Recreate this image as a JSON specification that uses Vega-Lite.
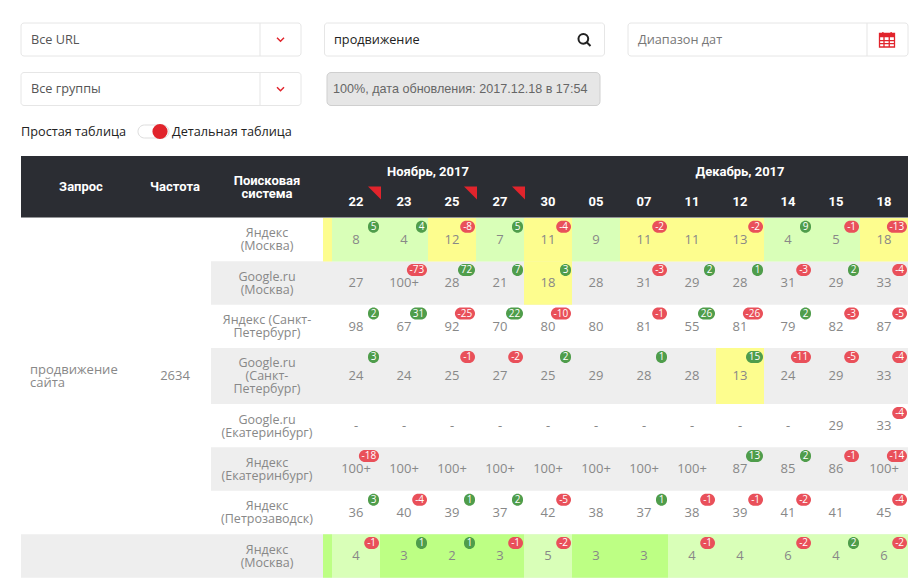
{
  "$schema": "https://vega.github.io/schema/vega-lite/v6.json",
  "autosize": {"type": "fit", "contains": "padding"},
  "width": 920,
  "height": 586,
  "padding": 0,
  "background": "#ffffff",
  "config": {"view": {"stroke": null}, "axis": {"disable": true}, "legend": {"disable": true}, "text": {"font": "Open Sans"}},
  "datasets": {
    "cells": [
      {"row":0,"col":0,"date":"22","pos":"8","delta":5,"tone":"green"},{"row":0,"col":1,"date":"23","pos":"4","delta":4,"tone":"green"},{"row":0,"col":2,"date":"25","pos":"12","delta":-8,"tone":"yellow"},{"row":0,"col":3,"date":"27","pos":"7","delta":5,"tone":"green"},{"row":0,"col":4,"date":"30","pos":"11","delta":-4,"tone":"yellow"},{"row":0,"col":5,"date":"05","pos":"9","delta":null,"tone":"green"},{"row":0,"col":6,"date":"07","pos":"11","delta":-2,"tone":"yellow"},{"row":0,"col":7,"date":"11","pos":"11","delta":null,"tone":"yellow"},{"row":0,"col":8,"date":"12","pos":"13","delta":-2,"tone":"yellow"},{"row":0,"col":9,"date":"14","pos":"4","delta":9,"tone":"green"},{"row":0,"col":10,"date":"15","pos":"5","delta":-1,"tone":"green"},{"row":0,"col":11,"date":"18","pos":"18","delta":-13,"tone":"yellow"},
      {"row":1,"col":0,"date":"22","pos":"27","delta":null,"tone":null},{"row":1,"col":1,"date":"23","pos":"100+","delta":-73,"tone":null},{"row":1,"col":2,"date":"25","pos":"28","delta":72,"tone":null},{"row":1,"col":3,"date":"27","pos":"21","delta":7,"tone":null},{"row":1,"col":4,"date":"30","pos":"18","delta":3,"tone":"yellow"},{"row":1,"col":5,"date":"05","pos":"28","delta":null,"tone":null},{"row":1,"col":6,"date":"07","pos":"31","delta":-3,"tone":null},{"row":1,"col":7,"date":"11","pos":"29","delta":2,"tone":null},{"row":1,"col":8,"date":"12","pos":"28","delta":1,"tone":null},{"row":1,"col":9,"date":"14","pos":"31","delta":-3,"tone":null},{"row":1,"col":10,"date":"15","pos":"29","delta":2,"tone":null},{"row":1,"col":11,"date":"18","pos":"33","delta":-4,"tone":null},
      {"row":2,"col":0,"date":"22","pos":"98","delta":2,"tone":null},{"row":2,"col":1,"date":"23","pos":"67","delta":31,"tone":null},{"row":2,"col":2,"date":"25","pos":"92","delta":-25,"tone":null},{"row":2,"col":3,"date":"27","pos":"70","delta":22,"tone":null},{"row":2,"col":4,"date":"30","pos":"80","delta":-10,"tone":null},{"row":2,"col":5,"date":"05","pos":"80","delta":null,"tone":null},{"row":2,"col":6,"date":"07","pos":"81","delta":-1,"tone":null},{"row":2,"col":7,"date":"11","pos":"55","delta":26,"tone":null},{"row":2,"col":8,"date":"12","pos":"81","delta":-26,"tone":null},{"row":2,"col":9,"date":"14","pos":"79","delta":2,"tone":null},{"row":2,"col":10,"date":"15","pos":"82","delta":-3,"tone":null},{"row":2,"col":11,"date":"18","pos":"87","delta":-5,"tone":null},
      {"row":3,"col":0,"date":"22","pos":"24","delta":3,"tone":null},{"row":3,"col":1,"date":"23","pos":"24","delta":null,"tone":null},{"row":3,"col":2,"date":"25","pos":"25","delta":-1,"tone":null},{"row":3,"col":3,"date":"27","pos":"27","delta":-2,"tone":null},{"row":3,"col":4,"date":"30","pos":"25","delta":2,"tone":null},{"row":3,"col":5,"date":"05","pos":"29","delta":null,"tone":null},{"row":3,"col":6,"date":"07","pos":"28","delta":1,"tone":null},{"row":3,"col":7,"date":"11","pos":"28","delta":null,"tone":null},{"row":3,"col":8,"date":"12","pos":"13","delta":15,"tone":"yellow"},{"row":3,"col":9,"date":"14","pos":"24","delta":-11,"tone":null},{"row":3,"col":10,"date":"15","pos":"29","delta":-5,"tone":null},{"row":3,"col":11,"date":"18","pos":"33","delta":-4,"tone":null},
      {"row":4,"col":0,"date":"22","pos":"-","delta":null,"tone":null},{"row":4,"col":1,"date":"23","pos":"-","delta":null,"tone":null},{"row":4,"col":2,"date":"25","pos":"-","delta":null,"tone":null},{"row":4,"col":3,"date":"27","pos":"-","delta":null,"tone":null},{"row":4,"col":4,"date":"30","pos":"-","delta":null,"tone":null},{"row":4,"col":5,"date":"05","pos":"-","delta":null,"tone":null},{"row":4,"col":6,"date":"07","pos":"-","delta":null,"tone":null},{"row":4,"col":7,"date":"11","pos":"-","delta":null,"tone":null},{"row":4,"col":8,"date":"12","pos":"-","delta":null,"tone":null},{"row":4,"col":9,"date":"14","pos":"-","delta":null,"tone":null},{"row":4,"col":10,"date":"15","pos":"29","delta":null,"tone":null},{"row":4,"col":11,"date":"18","pos":"33","delta":-4,"tone":null},
      {"row":5,"col":0,"date":"22","pos":"100+","delta":-18,"tone":null},{"row":5,"col":1,"date":"23","pos":"100+","delta":null,"tone":null},{"row":5,"col":2,"date":"25","pos":"100+","delta":null,"tone":null},{"row":5,"col":3,"date":"27","pos":"100+","delta":null,"tone":null},{"row":5,"col":4,"date":"30","pos":"100+","delta":null,"tone":null},{"row":5,"col":5,"date":"05","pos":"100+","delta":null,"tone":null},{"row":5,"col":6,"date":"07","pos":"100+","delta":null,"tone":null},{"row":5,"col":7,"date":"11","pos":"100+","delta":null,"tone":null},{"row":5,"col":8,"date":"12","pos":"87","delta":13,"tone":null},{"row":5,"col":9,"date":"14","pos":"85","delta":2,"tone":null},{"row":5,"col":10,"date":"15","pos":"86","delta":-1,"tone":null},{"row":5,"col":11,"date":"18","pos":"100+","delta":-14,"tone":null},
      {"row":6,"col":0,"date":"22","pos":"36","delta":3,"tone":null},{"row":6,"col":1,"date":"23","pos":"40","delta":-4,"tone":null},{"row":6,"col":2,"date":"25","pos":"39","delta":1,"tone":null},{"row":6,"col":3,"date":"27","pos":"37","delta":2,"tone":null},{"row":6,"col":4,"date":"30","pos":"42","delta":-5,"tone":null},{"row":6,"col":5,"date":"05","pos":"38","delta":null,"tone":null},{"row":6,"col":6,"date":"07","pos":"37","delta":1,"tone":null},{"row":6,"col":7,"date":"11","pos":"38","delta":-1,"tone":null},{"row":6,"col":8,"date":"12","pos":"39","delta":-1,"tone":null},{"row":6,"col":9,"date":"14","pos":"41","delta":-2,"tone":null},{"row":6,"col":10,"date":"15","pos":"41","delta":null,"tone":null},{"row":6,"col":11,"date":"18","pos":"45","delta":-4,"tone":null},
      {"row":7,"col":0,"date":"22","pos":"4","delta":-1,"tone":"green"},{"row":7,"col":1,"date":"23","pos":"3","delta":1,"tone":"bright"},{"row":7,"col":2,"date":"25","pos":"2","delta":1,"tone":"bright"},{"row":7,"col":3,"date":"27","pos":"3","delta":-1,"tone":"bright"},{"row":7,"col":4,"date":"30","pos":"5","delta":-2,"tone":"green"},{"row":7,"col":5,"date":"05","pos":"3","delta":null,"tone":"bright"},{"row":7,"col":6,"date":"07","pos":"3","delta":null,"tone":"bright"},{"row":7,"col":7,"date":"11","pos":"4","delta":-1,"tone":"green"},{"row":7,"col":8,"date":"12","pos":"4","delta":null,"tone":"green"},{"row":7,"col":9,"date":"14","pos":"6","delta":-2,"tone":"green"},{"row":7,"col":10,"date":"15","pos":"4","delta":2,"tone":"green"},{"row":7,"col":11,"date":"18","pos":"6","delta":-2,"tone":"green"}
    ],
    "engines": [
      {"row":0,"col":-1,"engine":["Яндекс","(Москва)"]},
      {"row":1,"col":-1,"engine":["Google.ru","(Москва)"]},
      {"row":2,"col":-1,"engine":["Яндекс (Санкт-","Петербург)"]},
      {"row":3,"col":-1,"engine":["Google.ru","(Санкт-","Петербург)"]},
      {"row":4,"col":-1,"engine":["Google.ru","(Екатеринбург)"]},
      {"row":5,"col":-1,"engine":["Яндекс","(Екатеринбург)"]},
      {"row":6,"col":-1,"engine":["Яндекс","(Петрозаводск)"]},
      {"row":7,"col":-1,"engine":["Яндекс","(Москва)"]}
    ],
    "header": [{"col":-4,"colEnd":11.5,"row":-4,"rowEnd":-1}],
    "shaded": [
      {"row":1,"col":-1.5,"colEnd":11.5},
      {"row":3,"col":-1.5,"colEnd":11.5},
      {"row":5,"col":-1.5,"colEnd":11.5},
      {"row":7,"col":-4,"colEnd":11.5}
    ],
    "edges": [
      {"row":0,"col":-0.6,"colEnd":-0.5,"tone":"yellow"},
      {"row":7,"col":-0.6,"colEnd":-0.5,"tone":"bright"}
    ],
    "heads": [
      {"col":-3,"line":-2.5,"label":"Запрос","lines":1},
      {"col":-2,"line":-2.5,"label":"Частота","lines":1},
      {"col":-1,"line":-2.5,"label":["Поисковая","система"],"lines":2},
      {"col":1.5,"line":-3,"label":"Ноябрь, 2017","lines":1},
      {"col":8,"line":-3,"label":"Декабрь, 2017","lines":1},
      {"col":0,"line":-2,"label":"22","lines":1},{"col":1,"line":-2,"label":"23","lines":1},{"col":2,"line":-2,"label":"25","lines":1},{"col":3,"line":-2,"label":"27","lines":1},{"col":4,"line":-2,"label":"30","lines":1},{"col":5,"line":-2,"label":"05","lines":1},{"col":6,"line":-2,"label":"07","lines":1},{"col":7,"line":-2,"label":"11","lines":1},{"col":8,"line":-2,"label":"12","lines":1},{"col":9,"line":-2,"label":"14","lines":1},{"col":10,"line":-2,"label":"15","lines":1},{"col":11,"line":-2,"label":"18","lines":1}
    ],
    "flags": [{"col":0,"line":-2.5},{"col":2,"line":-2.5},{"col":3,"line":-2.5}],
    "keywords": [{"col":-3.85,"row":3,"label":["продвижение","сайта"]},{"col":-2,"row":3,"label":"2634"}],
    "boxes": [{"slot":4,"band":0},{"slot":11,"band":0},{"slot":14,"band":0},{"slot":4,"band":1}],
    "seps": [{"slot":6,"band":0},{"slot":6,"band":1},{"slot":15,"band":0}],
    "chevrons": [{"slot":7,"band":0},{"slot":7,"band":1}],
    "labels": [
      {"slot":1,"band":0,"label":"Все URL","kind":"control"},
      {"slot":1,"band":1,"label":"Все группы","kind":"control"},
      {"slot":9,"band":0,"label":"продвижение","kind":"value"},
      {"slot":13,"band":0,"label":"Диапазон дат","kind":"hint"},
      {"slot":0,"band":2,"label":"Простая таблица","kind":"value"},
      {"slot":5,"band":2,"label":"Детальная таблица","kind":"value"}
    ]
  },
  "layer": [
    {
      "encoding": {
        "x": {"field": "slot", "type": "quantitative", "scale": {"domain": [0,1,2,3,4,5,6,7,8,9,10,11,12,13,14,15,16], "range": [21,31,153.5,160,161,172,260,280.5,333,334,463.5,464.5,584,638,768,867,887]}},
        "y": {"field": "band", "type": "quantitative", "scale": {"domain": [0,1,2], "range": [39.5,89,131.5]}}
      },
      "layer": [
        {"data": {"name": "boxes"}, "mark": {"type": "rect", "width": 280, "height": 33, "fill": "#ffffff", "stroke": "#e6e6e6", "cornerRadius": 3}},
        {"data": {"name": "seps"}, "mark": {"type": "rect", "width": 1, "height": 33, "fill": "#e6e6e6"}},
        {"data": {"name": "chevrons"}, "mark": {"type": "point", "shape": "M -1 -0.5 L 0 0.5 L 1 -0.5", "size": 49, "filled": false, "stroke": "#e1242c", "strokeWidth": 1.5, "opacity": 1}},
        {"data": {"values": [{"slot":12,"band":0}]}, "mark": {"type": "point", "shape": "M 0.5 0.5 L 1 1 M 0.65 -0.1 A 0.75 0.75 0 1 1 -0.85 -0.1 A 0.75 0.75 0 1 1 0.65 -0.1", "size": 169, "filled": false, "stroke": "#222222", "strokeWidth": 2, "opacity": 1}},
        {"data": {"values": [{"slot":16,"band":0}]}, "mark": {"type": "point", "shape": "M -1 -0.8 H 1 V -0.3 H -1 Z", "size": 225, "filled": true, "fill": "#e1242c", "opacity": 1}},
        {"data": {"values": [{"slot":16,"band":0}]}, "mark": {"type": "point", "shape": "M -1 -0.8 H 1 V 1 H -1 Z M -0.55 -1 V -0.6 M 0.55 -1 V -0.6 M -1 0.15 H 1 M -1 0.55 H 1 M -0.4 -0.35 V 1 M 0.3 -0.35 V 1", "size": 225, "filled": false, "stroke": "#e1242c", "strokeWidth": 1.3, "opacity": 1}},
        {"data": {"values": [{"slot":10,"band":1}]}, "mark": {"type": "rect", "width": 273, "height": 33, "fill": "#e6e6e6", "stroke": "#cfcfcf", "cornerRadius": 4}},
        {"data": {"values": [{"slot":8,"band":1,"label":"100%, дата обновления: 2017.12.18 в 17:54"}]}, "mark": {"type": "text", "align": "left", "baseline": "middle", "font": "Liberation Sans", "fontSize": 12.6, "fill": "#666666"}, "encoding": {"text": {"field": "label"}}},
        {"data": {"values": [{"slot":2,"band":2}]}, "mark": {"type": "rect", "width": 31, "height": 13, "fill": "#ffffff", "stroke": "#dddddd", "cornerRadius": 6.5}},
        {"data": {"values": [{"slot":3,"band":2}]}, "mark": {"type": "point", "shape": "circle", "size": 230, "filled": true, "fill": "#e1242c", "opacity": 1}},
        {"data": {"name": "labels"}, "mark": {"type": "text", "align": "left", "baseline": "middle", "font": "Open Sans", "fontSize": 12.7}, "encoding": {
          "text": {"field": "label"},
          "color": {"field": "kind", "type": "nominal", "scale": {"domain": ["control","value","hint"], "range": ["#555555","#222222","#777777"]}}
        }}
      ]
    },
    {
      "encoding": {
        "x": {"field": "col", "type": "quantitative", "scale": {"domain": [-4,-3.85,-3,-2,-1.5,-1,-0.6,-0.5,0,11.5], "range": [21,30,81,175,211,267,323,332,356,908]}},
        "y": {"field": "row", "type": "quantitative", "scale": {"domain": [-4,-3,-2.5,-2,-1,0,1,2,3,4,5,6,7], "range": [156,172,187,202,217.5,239.75,283,326.5,376,426,469,512.75,556]}}
      },
      "layer": [
        {"data": {"name": "header"}, "mark": {"type": "rect", "fill": "#2b2d33"}, "encoding": {"x2": {"field": "colEnd"}, "y2": {"field": "rowEnd"}}},
        {"data": {"name": "flags"}, "mark": {"type": "point", "shape": "M -1 -1 L 1 -1 L 1 1 Z", "size": 169, "filled": true, "fill": "#e1242c", "opacity": 1, "xOffset": 18.5, "yOffset": 6}, "encoding": {"y": {"field": "line", "type": "quantitative"}}},
        {"data": {"name": "heads"}, "mark": {"type": "text", "align": "center", "baseline": "middle", "font": "Roboto", "fontWeight": "bold", "fontSize": 13, "lineHeight": 12.5, "fill": "#ffffff", "yOffset": {"expr": "(datum.lines - 1) * -6"}}, "encoding": {"y": {"field": "line", "type": "quantitative"}, "text": {"field": "label"}}},
        {"data": {"name": "shaded"}, "mark": {"type": "rect", "height": {"expr": "datum.row == 3 ? 56 : 43.5"}, "fill": "#eeeeee"}, "encoding": {"x2": {"field": "colEnd"}}},
        {"data": {"name": "edges"}, "mark": {"type": "rect", "height": 43.5}, "encoding": {"x2": {"field": "colEnd"}, "color": {"field": "tone", "type": "nominal", "scale": {"domain": ["yellow","green","bright"], "range": ["#fdfd8e","#d9ffb8","#bdff84"]}}}},
        {"data": {"name": "cells"}, "transform": [{"filter": "datum.tone != null"}], "mark": {"type": "rect", "width": 48, "height": {"expr": "datum.row == 3 ? 56 : 43.5"}}, "encoding": {"color": {"field": "tone", "type": "nominal", "scale": {"domain": ["yellow","green","bright"], "range": ["#fdfd8e","#d9ffb8","#bdff84"]}}}},
        {"data": {"name": "engines"}, "mark": {"type": "text", "align": "center", "baseline": "middle", "font": "Open Sans", "fontSize": 12.5, "lineHeight": 13, "fill": "#888888", "yOffset": {"expr": "(length(datum.engine) - 1) * -6.5"}}, "encoding": {"text": {"field": "engine"}}},
        {"data": {"name": "keywords"}, "mark": {"type": "text", "align": "left", "baseline": "middle", "font": "Open Sans", "fontSize": 13, "lineHeight": 13, "fill": "#888888", "yOffset": -6.5}, "transform": [{"filter": "datum.col < -3"}], "encoding": {"text": {"field": "label"}}},
        {"data": {"name": "keywords"}, "mark": {"type": "text", "align": "center", "baseline": "middle", "font": "Open Sans", "fontSize": 13, "fill": "#888888"}, "transform": [{"filter": "datum.col > -3"}], "encoding": {"text": {"field": "label"}}},
        {"data": {"name": "cells"}, "mark": {"type": "text", "align": "center", "baseline": "middle", "font": "Open Sans", "fontSize": 13, "fill": "#888888"}, "encoding": {"text": {"field": "pos"}}},
        {"data": {"name": "cells"}, "transform": [{"filter": "datum.delta != null"}], "mark": {
          "type": "rect",
          "height": 12,
          "cornerRadius": 6,
          "width": {"expr": "datum.delta < 0 ? 4.2 + 5.3 * length(toString(datum.delta)) : 5 + 6 * length(toString(datum.delta))"},
          "xOffset": {"expr": "23 - (datum.delta < 0 ? 4.2 + 5.3 * length(toString(datum.delta)) : 5 + 6 * length(toString(datum.delta))) / 2"},
          "yOffset": {"expr": "datum.row == 3 ? -19 : -13"}
        }, "encoding": {"color": {"condition": {"test": "datum.delta < 0", "value": "#e9505a"}, "value": "#4f9d4b"}}},
        {"data": {"name": "cells"}, "transform": [{"filter": "datum.delta != null"}], "mark": {
          "type": "text",
          "align": "center",
          "baseline": "middle",
          "font": "Open Sans",
          "fontSize": 10,
          "fill": "#ffffff",
          "xOffset": {"expr": "23 - (datum.delta < 0 ? 4.2 + 5.3 * length(toString(datum.delta)) : 5 + 6 * length(toString(datum.delta))) / 2"},
          "yOffset": {"expr": "datum.row == 3 ? -19 : -13"}
        }, "encoding": {"text": {"field": "delta"}}}
      ]
    }
  ],
  "resolve": {"scale": {"x": "independent", "y": "independent", "color": "independent"}}
}
